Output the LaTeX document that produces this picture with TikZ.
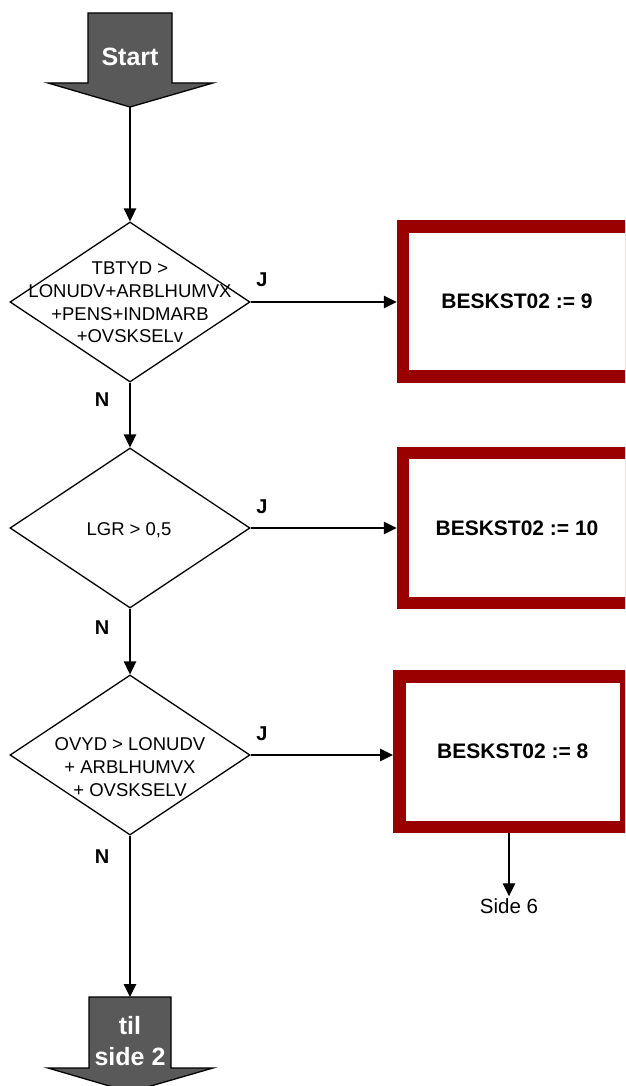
\documentclass[tikz,border=0pt]{standalone}
\usepackage{fontspec}
\setmainfont{Liberation Sans}
\usetikzlibrary{shapes.geometric,arrows.meta}
\definecolor{boxred}{HTML}{990000}
\definecolor{arrgray}{HTML}{595959}
\begin{document}
\begin{tikzpicture}[x=1pt,y=-1pt,
  conn/.style={line width=1.3pt,-{Triangle[length=13pt,width=12.5pt]}},
  dec/.style={diamond,draw,line width=1.3pt,minimum width=240pt,minimum height=160pt,inner sep=0pt},
  dtext/.style={font=\fontsize{18.5}{22.7}\selectfont,align=center,inner sep=0pt},
  res/.style={draw=boxred,line width=12.5pt,fill=white,minimum width=228pt,minimum height=150pt,inner sep=0pt,font=\fontsize{21}{25}\selectfont\bfseries},
  yn/.style={font=\fontsize{20}{22}\selectfont\bfseries,inner sep=0pt},
  bigarrow/.style={fill=arrgray,draw=black,line width=1.3pt},
  arrtext/.style={text=white,font=\fontsize{25}{31}\selectfont\bfseries,align=center,inner sep=0pt},
  plain/.style={font=\fontsize{20.5}{23}\selectfont,inner sep=2pt}
]
\useasboundingbox (0,0) rectangle (625,1086);
\clip (0,0) rectangle (625,1086);
\fill[white] (0,0) rectangle (625,1086);

% Start arrow
\draw[bigarrow] (88,13) -- (172,13) -- (172,83) -- (213,83) -- (130,107) -- (48,83) -- (88,83) -- cycle;
\coordinate (starttip) at (130,107);
\node[arrtext] (start) at (130,57) {Start};

% til side 2 arrow
\draw[bigarrow] (89,997) -- (171,997) -- (171,1068) -- (213,1068) -- (130,1092) -- (48,1068) -- (89,1068) -- cycle;
\coordinate (tiltop) at (130,997);
\node[arrtext] (til) at (130,1041) {til\\side 2};

% Decisions
\node[dec] (d1) at (130,302) {};
\node[dtext] (t1) at (130,302.5) {TBTYD >\\LONUDV+ARBLHUMVX\\+PENS+INDMARB\\+OVSKSELv};
\node[dec] (d2) at (130,528) {};
\node[dtext] (t2) at (129,530) {LGR > 0,5};
\node[dec] (d3) at (130,755) {};
\node[dtext] (t3) at (130,767) {OVYD > LONUDV\\+ ARBLHUMVX\\+ OVSKSELV};

% Results
\node[res] (b1) at (517,301.5) {BESKST02 := 9};
\node[res] (b2) at (517,528) {BESKST02 := 10};
\node[res,minimum width=227pt,minimum height=150.5pt] (b3) at (512.75,751.5) {BESKST02 := 8};
\node[plain] (side6) at (509,906) {Side 6};

% Labels
\node[yn] (j1) at (262,280) {J};
\node[yn] (j2) at (262,507) {J};
\node[yn] (j3) at (262,734) {J};
\node[yn] (n1) at (102,400) {N};
\node[yn] (n2) at (102,628) {N};
\node[yn] (n3) at (102,857) {N};

% Connectors
\draw[conn] (starttip) -- (d1.north);
\draw[conn] (d1.south) -- (d2.north);
\draw[conn] (d2.south) -- (d3.north);
\draw[conn] (d3.south) -- (tiltop);
\draw[conn] (d1.east) -- (d1.east -| b1.west);
\draw[conn] (d2.east) -- (d2.east -| b2.west);
\draw[conn] (d3.east) -- (d3.east -| b3.west);
\draw[conn] (b3.south -| side6) -- (side6.north);
\end{tikzpicture}
\end{document}
